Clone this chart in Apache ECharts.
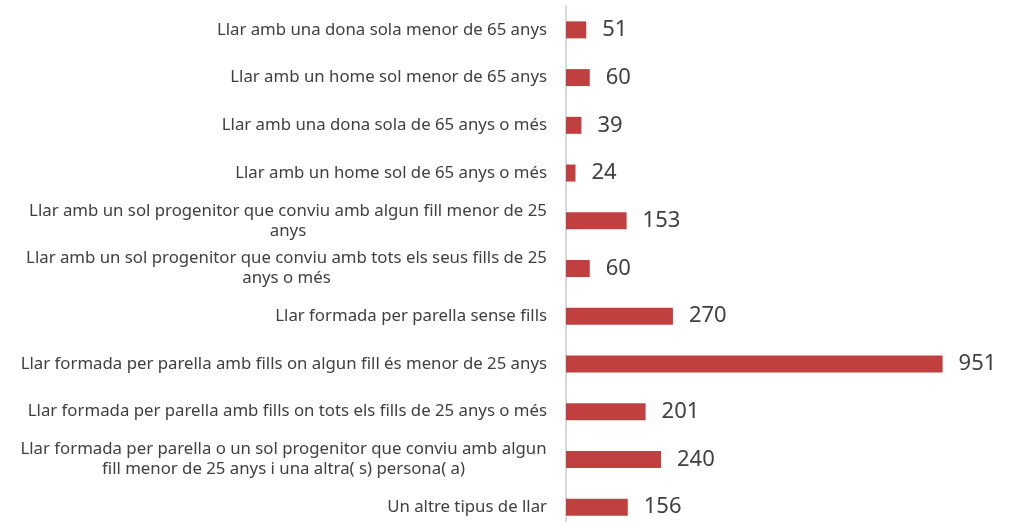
<!DOCTYPE html>
<html>
<head>
<meta charset="utf-8">
<script src="https://cdn.jsdelivr.net/npm/echarts@6/dist/echarts.min.js"></script>
<style>
  html, body { margin: 0; padding: 0; background: #fff; overflow: hidden; }
  #myChart { width: 1014px; height: 545px; }
</style>
</head>
<body>
<div id="myChart"></div>
<script>
var categories = [
  "Llar amb una dona sola menor de 65 anys",
  "Llar amb un home sol menor de 65 anys",
  "Llar amb una dona sola de 65 anys o més",
  "Llar amb un home sol de 65 anys o més",
  "Llar amb un sol progenitor que conviu amb algun fill menor de 25\nanys",
  "Llar amb un sol progenitor que conviu amb tots els seus fills de 25\nanys o més",
  "Llar formada per parella sense fills",
  "Llar formada per parella amb fills on algun fill és menor de 25 anys",
  "Llar formada per parella amb fills on tots els fills de 25 anys o més",
  "Llar formada per parella o un sol progenitor que conviu amb algun\nfill menor de 25 anys i una altra( s) persona( a)",
  "Un altre tipus de llar"
];
var values = [51, 60, 39, 24, 153, 60, 270, 951, 201, 240, 156];

var labelSize = 16.8;
var ctx = document.createElement('canvas').getContext('2d');
ctx.font = labelSize + 'px "Noto Sans"';

// multi-line labels: centre each line under the widest one
var rich = {};
var formatted = {};
categories.forEach(function (c, i) {
  if (c.indexOf('\n') < 0) return;
  var lines = c.split('\n');
  var w = Math.max.apply(null, lines.map(function (l) { return ctx.measureText(l).width; }));
  rich['r' + i] = { width: Math.ceil(w), align: 'center', fontSize: labelSize, lineHeight: 20,
                    color: '#404040', fontFamily: 'Noto Sans' };
  formatted[c] = lines.map(function (l) { return '{r' + i + '|' + l + '}'; }).join('\n');
});

var chart = echarts.init(document.getElementById('myChart'));
chart.setOption({
  animation: false,
  grid: { left: 566, top: 6, width: 396, height: 525 },
  xAxis: {
    type: 'value',
    min: 0,
    max: 1000,
    show: false
  },
  yAxis: {
    type: 'category',
    inverse: true,
    data: categories,
    axisTick: { show: false },
    axisLine: { show: true, lineStyle: { color: '#d9d9d9', width: 2 } },
    axisLabel: {
      margin: 19,
      fontSize: labelSize,
      lineHeight: 20,
      color: '#404040',
      fontFamily: 'Noto Sans',
      rich: rich,
      formatter: function (v) { return formatted[v] || v; }
    }
  },
  series: [{
    type: 'bar',
    data: values,
    barWidth: 17,
    itemStyle: { color: '#c04040' },
    label: {
      show: true,
      position: 'right',
      distance: 16,
      fontSize: 22,
      color: '#404040',
      fontFamily: 'Noto Sans'
    }
  }]
});
</script>
</body>
</html>
